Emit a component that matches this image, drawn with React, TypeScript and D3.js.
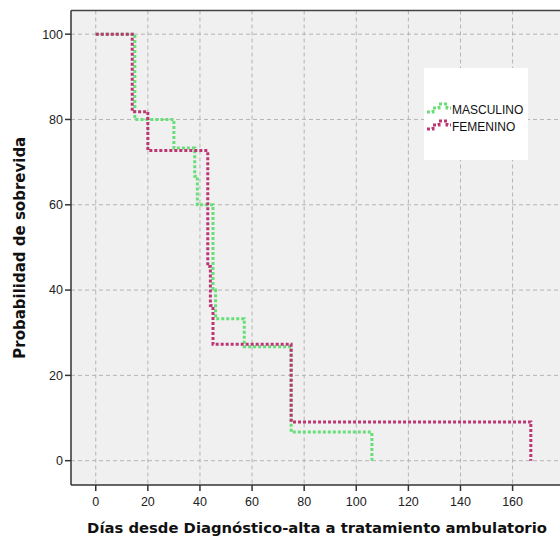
import React from "react";
import * as d3 from "d3";

const xTicks = [0, 20, 40, 60, 80, 100, 120, 140, 160];
const yTicks = [0, 20, 40, 60, 80, 100];

const maleTimes = [0, 15, 30, 38, 39, 45, 46, 57, 75, 106];
const maleSurv = [100, 80, 73.3, 66.7, 60, 40, 33.3, 26.7, 6.7, 0];

const femaleTimes = [0, 14, 20, 43, 44, 45, 75, 167];
const femaleSurv = [100, 81.8, 72.7, 45.5, 36.4, 27.3, 9.1, 0];

const seriesNames = ["MASCULINO", "FEMENINO"];
const seriesColors = ["#66df78", "#bb3672"];

const xTitle = "Días desde Diagnóstico-alta a tratamiento ambulatorio";
const yTitle = "Probabilidad de sobrevida";

export default function App() {
  const W = 560, H = 543;
  const left = 71, right = 560, top = 10.5, bottom = 485;
  const x = d3.scaleLinear().domain([-9.5, 178.2]).range([left, right]);
  const y = d3.scaleLinear().domain([-5.7, 105.55]).range([bottom, top]);

  const line = d3
    .line<[number, number]>()
    .x((d) => x(d[0]))
    .y((d) => y(d[1]))
    .curve(d3.curveStepAfter);

  const maleData: [number, number][] = maleTimes.map((t, i) => [t, maleSurv[i]]);
  const femaleData: [number, number][] = femaleTimes.map((t, i) => [t, femaleSurv[i]]);

  const tickFont = "'Liberation Sans', Arial, sans-serif";
  const titleFont = "'DejaVu Sans', Verdana, sans-serif";

  const legendSym = (yOff: number) =>
    `M427,${yOff + 8} H433 V${yOff + 4} H439 V${yOff} H447 V${yOff + 4} H451`;

  return (
    <svg
      width={W}
      height={H}
      style={{ position: "absolute", left: 0, top: 0, background: "#fff" }}
    >
      <rect x={left} y={top} width={right - left} height={bottom - top} fill="#f0f0f0" />
      {xTicks.map((t) => (
        <line
          key={"gx" + t}
          x1={x(t)}
          x2={x(t)}
          y1={top}
          y2={bottom}
          stroke="#b4b4b4"
          strokeWidth={1}
          strokeDasharray="4 3"
        />
      ))}
      {yTicks.map((t) => (
        <line
          key={"gy" + t}
          x1={left}
          x2={right}
          y1={y(t)}
          y2={y(t)}
          stroke="#b4b4b4"
          strokeWidth={1}
          strokeDasharray="4 3"
        />
      ))}
      <rect x={424} y={68} width={104} height={92} fill="#ffffff" />
      <path
        d={line(maleData) || ""}
        fill="none"
        stroke={seriesColors[0]}
        strokeWidth={3}
        strokeDasharray="3 2"
      />
      <path
        d={line(femaleData) || ""}
        fill="none"
        stroke={seriesColors[1]}
        strokeWidth={3}
        strokeDasharray="3 2"
      />
      {/* frame */}
      <line x1={left} x2={right} y1={top} y2={top} stroke="#444" strokeWidth={1.5} />
      <line x1={left} x2={left} y1={top} y2={bottom} stroke="#333" strokeWidth={1.5} />
      <line x1={left} x2={right} y1={bottom} y2={bottom} stroke="#333" strokeWidth={1.5} />
      {yTicks.map((t) => (
        <g key={"ty" + t}>
          <line x1={left - 6} x2={left} y1={y(t)} y2={y(t)} stroke="#333" strokeWidth={1.5} />
          <text
            x={left - 8}
            y={y(t)}
            dy="0.35em"
            textAnchor="end"
            fontFamily={tickFont}
            fontSize={12.5}
            fill="#222"
          >
            {t}
          </text>
        </g>
      ))}
      {xTicks.map((t) => (
        <g key={"tx" + t}>
          <line x1={x(t)} x2={x(t)} y1={bottom} y2={bottom + 6} stroke="#333" strokeWidth={1.5} />
          <text
            x={x(t)}
            y={bottom + 21}
            textAnchor="middle"
            fontFamily={tickFont}
            fontSize={12.5}
            fill="#222"
          >
            {t}
          </text>
        </g>
      ))}
      <text
        x={317}
        y={533}
        textAnchor="middle"
        fontFamily={titleFont}
        fontWeight="bold"
        fontSize={14.8}
        fill="#111"
      >
        {xTitle}
      </text>
      <text
        transform={`translate(25,${(top + bottom) / 2}) rotate(-90)`}
        textAnchor="middle"
        fontFamily={titleFont}
        fontWeight="bold"
        fontSize={15}
        fill="#111"
      >
        {yTitle}
      </text>
      {/* legend */}
      <path d={legendSym(104)} fill="none" stroke={seriesColors[0]} strokeWidth={3} strokeDasharray="3 2" />
      <path d={legendSym(121)} fill="none" stroke={seriesColors[1]} strokeWidth={3} strokeDasharray="3 2" />
      <text x={452} y={114} fontFamily={tickFont} fontSize={12} fill="#111">
        {seriesNames[0]}
      </text>
      <text x={452} y={131} fontFamily={tickFont} fontSize={12} fill="#111">
        {seriesNames[1]}
      </text>
    </svg>
  );
}
